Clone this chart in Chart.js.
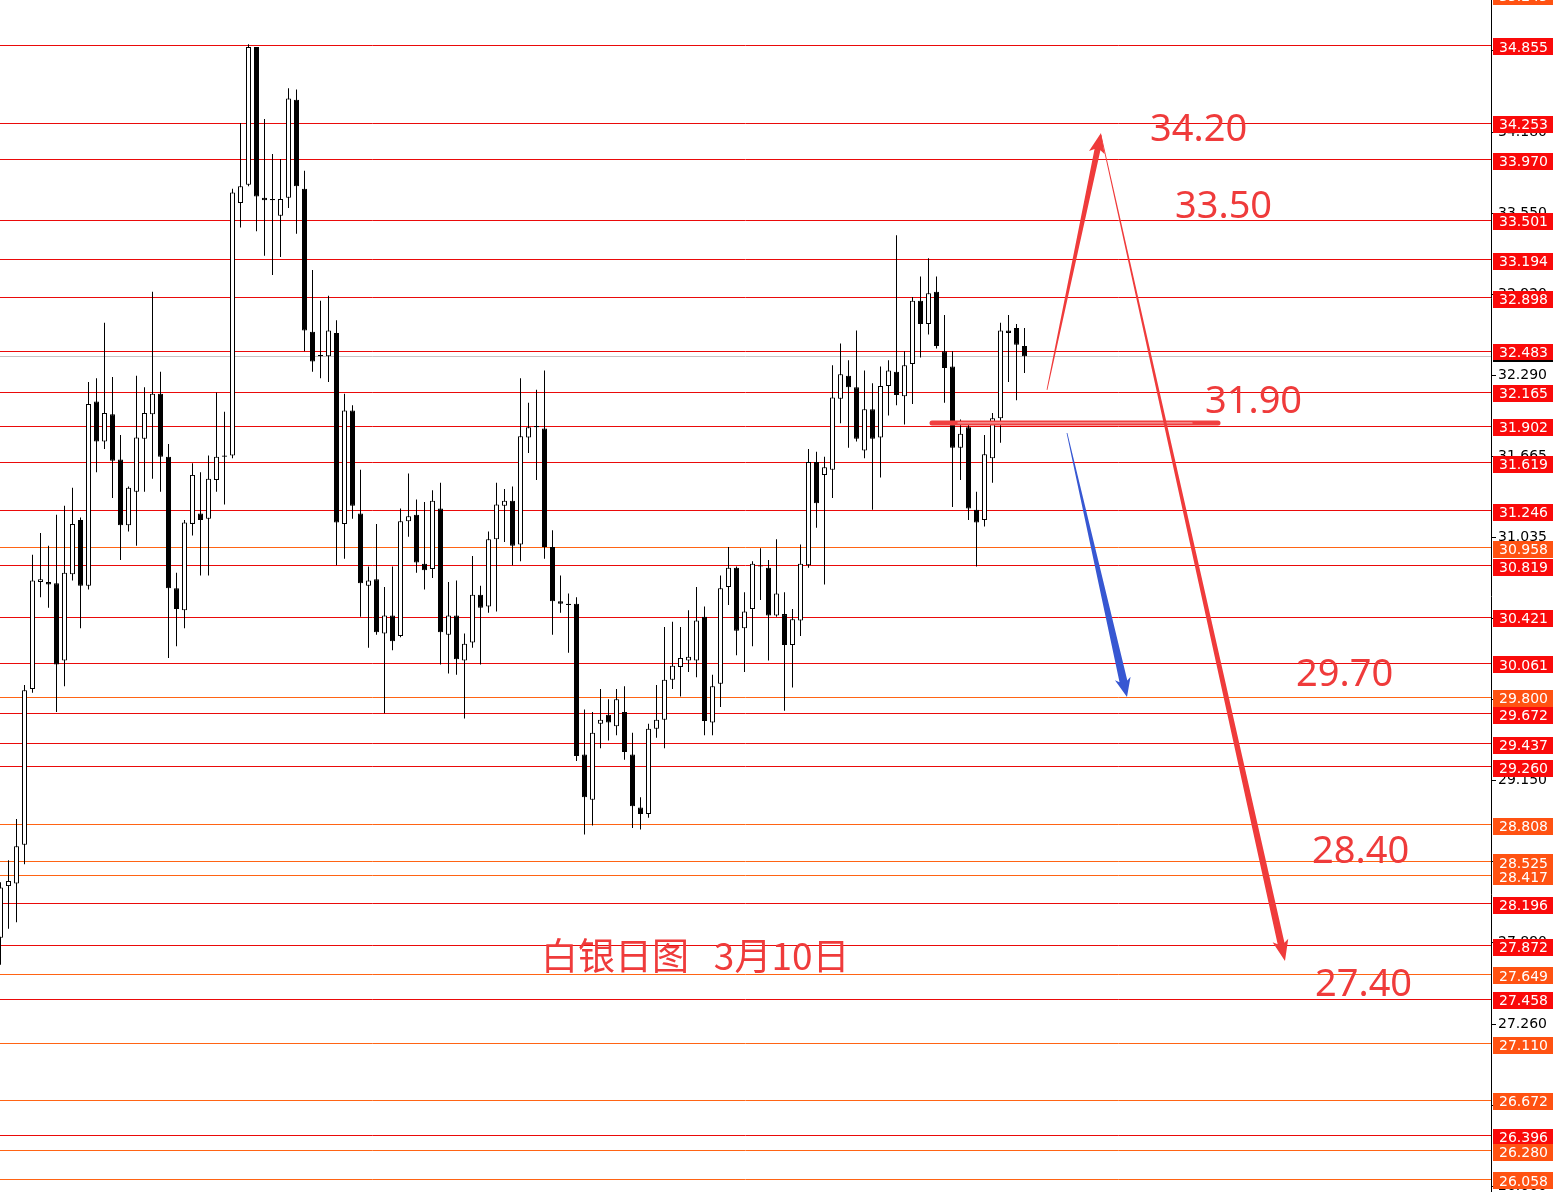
<!DOCTYPE html>
<html>
<head>
<meta charset="utf-8">
<script src="https://cdn.jsdelivr.net/npm/chart.js@4.4.1/dist/chart.umd.min.js"></script>
<style>
    html, body { margin: 0; padding: 0; background: #fff; overflow: hidden; }
</style>
</head>
<body>
<canvas id="myChart" width="1553" height="1192"></canvas>
<script>
//K线数据（日线）
var opens = [27.93, 28.33, 28.35, 28.65, 29.86, 30.69, 30.69, 30.68, 30.08, 30.75, 31.17, 30.66, 32.09, 31.78, 31.99, 31.64, 31.13, 31.39, 31.80, 31.99,
    32.15, 31.66, 30.64, 30.47, 31.14, 31.22, 31.18, 31.48, 31.66, 31.67, 33.63, 33.77, 34.84, 33.67, 33.66, 33.53, 33.67, 34.43, 33.74, 32.63,
    32.45, 32.44, 32.62, 31.14, 32.02, 31.22, 30.66, 30.71, 30.29, 30.43, 30.27, 31.16, 31.21, 30.83, 30.79, 31.26, 30.28, 30.43, 30.08, 30.22,
    30.59, 30.50, 31.02, 31.28, 31.32, 30.98, 31.81, 31.90, 31.88, 30.96, 30.54, 30.51, 30.52, 29.35, 29.00, 29.59, 29.66, 29.57, 29.68, 29.35,
    28.94, 28.89, 29.55, 29.62, 29.93, 30.03, 30.08, 30.08, 30.42, 29.60, 29.90, 30.65, 30.80, 30.33, 30.48, 30.81, 30.80, 30.43, 30.44, 30.20,
    30.39, 30.82, 31.62, 31.52, 31.56, 32.11, 32.29, 32.20, 31.71, 32.03, 31.81, 32.21, 32.32, 32.13, 32.38, 32.87, 32.69, 32.94, 32.48, 32.36,
    31.73, 31.89, 31.25, 31.17, 31.65, 31.96, 32.64, 32.66, 32.52]
var highs = [28.36, 28.53, 28.85, 29.89, 30.90, 31.07, 30.97, 31.21, 31.28, 31.42, 31.19, 32.24, 32.27, 32.70, 32.28, 31.83, 31.43, 32.29, 32.20, 32.94,
    32.32, 31.76, 30.76, 31.17, 31.61, 31.54, 31.67, 32.16, 32.01, 33.74, 34.25, 34.86, 34.84, 34.28, 34.01, 33.97, 34.52, 34.51, 33.88, 33.11,
    32.87, 32.91, 32.72, 32.15, 32.06, 31.56, 30.81, 31.14, 30.65, 30.81, 31.26, 31.53, 31.33, 31.31, 31.40, 31.46, 30.69, 30.70, 30.29, 30.89,
    30.66, 31.08, 31.46, 31.41, 31.43, 32.27, 32.08, 32.18, 32.33, 31.09, 30.74, 30.60, 30.57, 29.70, 29.68, 29.86, 29.78, 29.86, 29.88, 29.52,
    29.02, 29.59, 29.89, 30.34, 30.38, 30.34, 30.47, 30.65, 30.50, 29.97, 30.74, 30.96, 30.81, 30.61, 30.85, 30.95, 30.86, 31.02, 30.61, 30.48,
    30.98, 31.72, 31.70, 31.66, 32.37, 32.54, 32.41, 32.64, 32.33, 32.23, 32.36, 32.41, 33.38, 32.48, 32.90, 33.06, 33.20, 33.06, 32.76, 32.48,
    31.95, 31.91, 31.39, 31.83, 32.00, 32.70, 32.76, 32.69, 32.66]
var lows = [27.72, 28.00, 28.05, 28.50, 29.83, 30.57, 30.49, 29.68, 29.88, 30.70, 30.33, 30.63, 31.54, 31.72, 31.34, 30.86, 31.08, 30.97, 31.39, 31.49,
    31.39, 30.10, 30.19, 30.33, 31.05, 30.74, 30.74, 31.39, 31.29, 31.65, 33.44, 33.76, 33.41, 33.22, 33.07, 33.21, 33.59, 33.39, 32.48, 32.32,
    32.27, 32.24, 30.82, 30.87, 31.18, 30.42, 30.18, 30.28, 29.67, 30.16, 30.26, 31.04, 30.76, 30.63, 30.72, 30.05, 29.98, 29.97, 29.63, 30.18,
    30.05, 30.45, 30.46, 31.00, 30.82, 30.85, 31.69, 31.48, 30.87, 30.28, 30.45, 30.14, 29.30, 28.73, 28.80, 29.40, 29.46, 29.50, 29.31, 28.78,
    28.77, 28.86, 29.48, 29.40, 29.86, 29.80, 29.99, 29.95, 29.50, 29.50, 29.72, 30.51, 30.12, 29.99, 30.19, 30.55, 30.08, 30.42, 29.69, 29.87,
    30.27, 30.80, 31.11, 30.67, 31.34, 31.92, 31.73, 31.78, 31.65, 31.25, 31.50, 31.98, 32.06, 31.91, 32.07, 32.43, 32.61, 32.50, 32.08, 31.27,
    31.48, 31.17, 30.81, 31.12, 31.46, 31.77, 32.24, 32.10, 32.31]
var closes = [28.32, 28.37, 28.64, 29.85, 30.70, 30.71, 30.67, 30.05, 30.76, 31.14, 30.66, 32.07, 31.78, 32.00, 31.63, 31.13, 31.42, 31.81, 32.00, 32.15,
    31.66, 30.64, 30.48, 31.15, 31.52, 31.17, 31.49, 31.66, 31.67, 33.71, 33.76, 34.84, 33.68, 33.65, 33.65, 33.66, 34.44, 33.76, 32.64, 32.40,
    32.44, 32.64, 31.15, 32.02, 31.28, 30.68, 30.70, 30.30, 30.43, 30.23, 31.16, 31.20, 30.84, 30.78, 31.32, 30.30, 30.43, 30.09, 30.21, 30.59,
    30.49, 31.02, 31.29, 31.32, 30.97, 31.82, 31.89, 31.89, 30.96, 30.54, 30.52, 30.52, 29.34, 29.02, 29.52, 29.62, 29.60, 29.78, 29.37, 28.95,
    28.89, 29.55, 29.62, 29.93, 30.04, 30.10, 30.11, 30.39, 29.61, 29.88, 30.64, 30.80, 30.31, 30.46, 30.83, 30.81, 30.43, 30.60, 30.20, 30.40,
    30.83, 31.62, 31.30, 31.58, 32.12, 32.30, 32.20, 31.80, 32.03, 31.80, 32.21, 32.33, 32.14, 32.37, 32.87, 32.69, 32.93, 32.52, 32.35, 31.73,
    31.84, 31.26, 31.15, 31.68, 31.96, 32.64, 32.62, 32.53, 32.44]

//水平线（支撑/阻力位）
var redLevels = [34.855, 34.253, 33.970, 33.501, 33.194, 32.898, 32.483, 32.165, 31.902, 31.619, 31.246, 30.819, 30.421, 30.061,
    29.672, 29.437, 29.260, 28.196, 27.872, 27.458, 26.396]
var orangeLevels = [35.245, 30.958, 29.800, 28.808, 28.525, 28.417, 27.649, 27.110, 26.672, 26.280, 26.058]
//当前价
var bidPrice = 32.442
//价格轴刻度
var yTicks = [26.000, 26.630, 27.260, 27.890, 28.520, 29.150, 29.780, 30.405, 31.035, 31.665, 32.290, 32.920, 33.550, 34.180, 34.810]

//手绘标注（K线序号, 价格）
var upArrow = [[130.81, 32.179], [137.56, 34.172]]
var downArrow = [[137.56, 34.157], [160.56, 27.749]]
var blueArrow = [[133.31, 31.845], [140.81, 29.797]]
var pivotBar = [[115.94, 31.923], [152.69, 31.923]]
var targetLabels = ['34.20', '33.50', '31.90', '29.70', '28.40', '27.40']
var targetX = [143.69, 146.81, 150.56, 161.94, 163.94, 164.31]
var targetY = [34.196, 33.598, 32.086, 29.968, 28.595, 27.563]
var titleText = '白银日图   3月10日'
var titlePos = [67.56, 27.788]

var RED = '#ef3b3b'


function taperArrow(ctx, x0, y0, x1, y1, w0, w1, hw, hl, color) {
    //从细到粗的箭头
    let dx = x1 - x0, dy = y1 - y0
    let len = Math.hypot(dx, dy)
    let ux = dx / len, uy = dy / len
    let nx = -uy, ny = ux
    let bx = x1 - ux * hl, by = y1 - uy * hl
    ctx.fillStyle = color
    ctx.beginPath()
    ctx.moveTo(x0 + nx * w0 / 2, y0 + ny * w0 / 2)
    ctx.lineTo(bx + nx * w1 / 2, by + ny * w1 / 2)
    ctx.lineTo(bx - ux * 3 + nx * hw / 2, by - uy * 3 + ny * hw / 2)
    ctx.lineTo(x1, y1)
    ctx.lineTo(bx - ux * 3 - nx * hw / 2, by - uy * 3 - ny * hw / 2)
    ctx.lineTo(bx - nx * w1 / 2, by - ny * w1 / 2)
    ctx.lineTo(x0 - nx * w0 / 2, y0 - ny * w0 / 2)
    ctx.closePath()
    ctx.fill()
}


var levelPlugin = {
    id: 'levels',
    beforeDatasetsDraw(chart) {
        //画水平线
        let ctx = chart.ctx
        let area = chart.chartArea
        let ys = chart.scales.y
        ctx.save()
        ctx.lineWidth = 1
        let drawLine = (v, color) => {
            let py = Math.round(ys.getPixelForValue(v)) + 0.5
            ctx.strokeStyle = color
            ctx.beginPath()
            ctx.moveTo(area.left, py)
            ctx.lineTo(area.right, py)
            ctx.stroke()
        }
        drawLine(bidPrice, '#c4c4c4')
        redLevels.forEach(v => drawLine(v, '#ea0a0a'))
        orangeLevels.forEach(v => drawLine(v, '#ff6414'))
        ctx.restore()
    }
}


var overlayPlugin = {
    id: 'overlay',
    afterDraw(chart) {
        let ctx = chart.ctx
        let xs = chart.scales.x
        let ys = chart.scales.y
        let area = chart.chartArea
        let px = p => [xs.getPixelForValue(p[0]), ys.getPixelForValue(p[1])]
        ctx.save()

        //右侧价格标签
        let all = redLevels.map(v => [v, '#fa0a0a']).concat(orangeLevels.map(v => [v, '#ff5212']))
        all.sort((a, b) => b[0] - a[0])
        ctx.font = '14px "DejaVu Sans"'
        ctx.textBaseline = 'middle'
        ctx.textAlign = 'left'
        all.forEach(([v, color]) => {
            let cy = ys.getPixelForValue(v) + 2
            ctx.fillStyle = color
            ctx.fillRect(area.right + 2, Math.round(cy - 8.5), chart.width - area.right - 2, 17)
            ctx.fillStyle = '#fff'
            ctx.fillText(v.toFixed(3), area.right + 8, cy + 1)
        })
        //当前价标记
        let by = Math.round(ys.getPixelForValue(bidPrice))
        ctx.fillStyle = '#000'
        ctx.fillRect(area.right + 2, by + 4, chart.width - area.right - 2, 2)

        //31.90 横线
        let [hx0, hy0] = px(pivotBar[0])
        let [hx1, hy1] = px(pivotBar[1])
        ctx.lineCap = 'round'
        ctx.strokeStyle = '#f04040'
        ctx.lineWidth = 5
        ctx.beginPath(); ctx.moveTo(hx0 + 4, hy0); ctx.lineTo(hx1 - 4, hy1); ctx.stroke()
        ctx.strokeStyle = '#f6a4a4'
        ctx.lineWidth = 1.2
        ctx.beginPath(); ctx.moveTo(hx0 + 30, hy0); ctx.lineTo(hx1 - 30, hy1); ctx.stroke()

        //箭头
        let a, b
        a = px(upArrow[0]); b = px(upArrow[1])
        taperArrow(ctx, a[0], a[1], b[0], b[1], 0.8, 6, 16, 17, RED)
        a = px(downArrow[0]); b = px(downArrow[1])
        taperArrow(ctx, a[0], a[1], b[0], b[1], 0.8, 7, 16, 18, RED)
        a = px(blueArrow[0]); b = px(blueArrow[1])
        taperArrow(ctx, a[0], a[1], b[0], b[1], 0.8, 8, 16, 16, '#3757d2')

        //目标价文字
        ctx.fillStyle = RED
        ctx.textBaseline = 'middle'
        ctx.textAlign = 'left'
        ctx.font = '38px "Noto Sans"'
        targetLabels.forEach((t, i) => {
            ctx.fillText(t, xs.getPixelForValue(targetX[i]), ys.getPixelForValue(targetY[i]))
        })
        ctx.font = '37px "Noto Sans CJK SC"'
        ctx.fillText(titleText, xs.getPixelForValue(titlePos[0]), ys.getPixelForValue(titlePos[1]))

        ctx.restore()
    }
}


function init() {
    let idx = opens.map((o, i) => i)
    let wickData = idx.map(i => ({ x: i, y: [lows[i], highs[i]] }))
    let bodyData = idx.map(i => ({ x: i, y: [opens[i], closes[i]] }))
    let bodyColors = idx.map(i => closes[i] >= opens[i] ? '#ffffff' : '#000000')

    let ctx = document.getElementById('myChart').getContext('2d')
    new Chart(ctx, {
        type: 'bar',
        data: {
            datasets: [{
                //影线
                data: wickData,
                backgroundColor: '#000',
                borderWidth: 0,
                barThickness: 1,
                inflateAmount: 0,
                grouped: false,
                order: 2
            }, {
                //实体
                data: bodyData,
                backgroundColor: bodyColors,
                borderColor: '#000',
                borderWidth: 1,
                borderSkipped: false,
                barThickness: 5,
                minBarLength: 1,
                inflateAmount: 0,
                grouped: false,
                order: 1
            }]
        },
        options: {
            responsive: false,
            devicePixelRatio: 1,
            animation: false,
            layout: { padding: 0 },
            plugins: {
                legend: { display: false },
                tooltip: { enabled: false }
            },
            scales: {
                x: {
                    type: 'linear',
                    display: false,
                    offset: false,
                    min: -0.0625,
                    max: 186.3125
                },
                y: {
                    type: 'linear',
                    position: 'right',
                    min: 25.957,
                    max: 35.204,
                    afterBuildTicks: (scale) => {
                        scale.ticks = yTicks.map(v => ({ value: v }))
                    },
                    afterFit: (scale) => {
                        scale.width = 62
                        scale.paddingTop = 0
                        scale.paddingBottom = 0
                    },
                    border: { display: true, color: '#000', width: 1 },
                    grid: { display: true, drawOnChartArea: false, drawTicks: true, tickLength: 5, color: '#000' },
                    ticks: {
                        color: '#000',
                        padding: 2,
                        autoSkip: false,
                        font: { family: 'DejaVu Sans', size: 14 },
                        callback: (v) => Number(v).toFixed(3)
                    }
                }
            }
        },
        plugins: [levelPlugin, overlayPlugin]
    })
}

init()
</script>
</body>
</html>
